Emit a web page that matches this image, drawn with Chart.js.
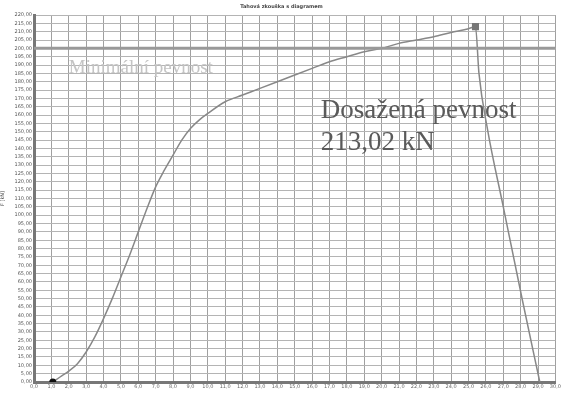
<!DOCTYPE html>
<html>
<head>
<meta charset="utf-8">
<script src="https://cdn.jsdelivr.net/npm/chart.js@4/dist/chart.umd.min.js"></script>
<style>
  html, body { margin: 0; padding: 0; background: #fff; }
  #wrap { width: 563px; height: 396px; }
</style>
</head>
<body>
<div id="wrap"><canvas id="line-chart"></canvas></div>
<script>
// deformace (x) a síla v kN (y)
var deformace = [1.08, 1.5, 2, 2.5, 3, 3.5, 4, 4.5, 5, 5.5, 6, 6.5, 7, 7.5, 8, 8.5, 9, 9.5, 10,
                 11, 12, 13, 14, 15, 16, 17, 18, 19, 20, 21, 22, 23, 24, 25, 25.4,
                 25.6, 26.1, 27, 28.1, 29.1];
var sila = [0, 3, 6.5, 11, 18, 27, 38, 50, 63, 76, 90, 104, 117, 127, 136, 145, 152, 157, 161,
            168, 172, 176, 180, 184, 188, 192, 195, 198, 200, 203, 205, 207, 209.5, 211.8, 213.02,
            185, 151, 105, 49, 0];
var minPevnost = 200;
var dosazenaPevnost = "213,02 kN";
var yTicks = { min: 0, max: 220, step: 5 };
var xTicks = { min: 0, max: 30, step: 1 };

var body = deformace.map(function (x, i) { return { x: x, y: sila[i] }; });
var peakIndex = sila.indexOf(Math.max.apply(null, sila));

var textPlugin = {
  id: 'popisky',
  afterDatasetsDraw: function (chart) {
    var ctx = chart.ctx;
    var x = chart.scales.x, y = chart.scales.y;
    ctx.save();
    ctx.textAlign = 'left';
    ctx.textBaseline = 'alphabetic';
    ctx.fillStyle = '#c4c4c4';
    ctx.font = '19px "Liberation Serif"';
    ctx.fillText('Minimální pevnost', x.getPixelForValue(2), y.getPixelForValue(185));
    ctx.fillStyle = '#5a5a5a';
    ctx.font = '27px "Liberation Serif"';
    ctx.fillText('Dosažená pevnost', x.getPixelForValue(16.5), y.getPixelForValue(158));
    ctx.fillText(dosazenaPevnost, x.getPixelForValue(16.5), y.getPixelForValue(139));
    ctx.restore();
  }
};

new Chart(document.getElementById("line-chart"), {
  type: 'line',
  data: {
    datasets: [
      {
        label: "Minimální pevnost",
        data: [{ x: xTicks.min, y: minPevnost }, { x: xTicks.max, y: minPevnost }],
        borderColor: "#999",
        borderWidth: 3,
        pointRadius: 0
      },
      {
        label: "Síla",
        data: body,
        borderColor: "#888",
        borderWidth: 1.5,
        cubicInterpolationMode: 'monotone',
        pointRadius: body.map(function (p, i) { return i === 0 ? 3.5 : (i === peakIndex ? 5 : 0); }),
        pointStyle: body.map(function (p, i) { return i === peakIndex ? 'rect' : 'circle'; }),
        pointBackgroundColor: body.map(function (p, i) { return i === 0 ? '#111' : '#777'; }),
        pointBorderWidth: 0
      }
    ]
  },
  options: {
    responsive: true,
    maintainAspectRatio: false,
    animation: false,
    layout: { padding: { left: 0, right: 0, top: 0, bottom: 0 } },
    plugins: {
      legend: { display: false },
      tooltip: { enabled: false },
      title: {
        display: true,
        text: 'Tahová zkouška s diagramem',
        color: '#444',
        font: { size: 5, family: 'DejaVu Sans', weight: 'bold' },
        padding: { top: 4, bottom: 5 }
      }
    },
    scales: {
      x: {
        type: 'linear',
        min: xTicks.min,
        max: xTicks.max,
        ticks: {
          stepSize: xTicks.step,
          autoSkip: false,
          color: '#666',
          font: { size: 5, family: 'DejaVu Sans' },
          padding: 2,
          callback: function (v) { return v.toFixed(1).replace('.', ','); }
        },
        grid: { color: '#a0a0a0', lineWidth: 1, drawTicks: false },
        border: { color: '#777', width: 3 },
        afterFit: function (s) { s.height = 14; }
      },
      y: {
        min: yTicks.min,
        max: yTicks.max,
        ticks: {
          stepSize: yTicks.step,
          autoSkip: false,
          color: '#555',
          font: { size: 5, family: 'DejaVu Sans' },
          padding: 2,
          callback: function (v) { return v.toFixed(2).replace('.', ','); }
        },
        title: {
          display: true,
          text: 'F [kN]',
          color: '#444',
          font: { size: 5, family: 'DejaVu Sans' },
          padding: 0
        },
        grid: { color: '#b4b4b4', lineWidth: 1, drawTicks: false },
        border: { color: '#777', width: 3 },
        afterFit: function (s) { s.width = 34; }
      }
    }
  },
  plugins: [textPlugin]
});
</script>
</body>
</html>
